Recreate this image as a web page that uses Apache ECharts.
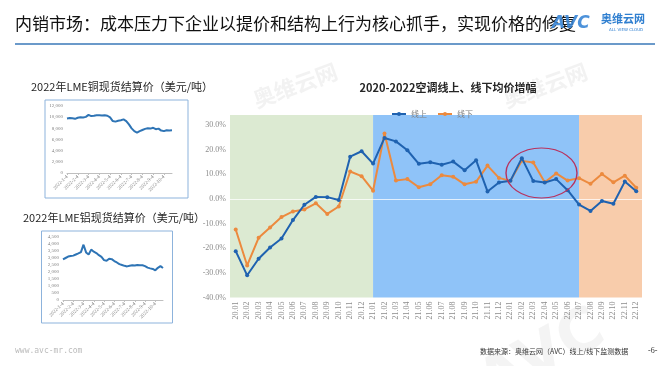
<!DOCTYPE html>
<html>
<head>
<meta charset="utf-8">
<script src="https://cdn.jsdelivr.net/npm/echarts@6/dist/echarts.min.js"></script>
<style>
html,body{margin:0;padding:0;background:#fff;}
#c{width:668px;height:366px;}
</style>
</head>
<body>
<div id="c"></div>
<script>
// ---------- data ----------
const months = ['20.01','20.02','20.03','20.04','20.05','20.06','20.07','20.08','20.09','20.10','20.11','20.12',
                '21.01','21.02','21.03','21.04','21.05','21.06','21.07','21.08','21.09','21.10','21.11','21.12',
                '22.01','22.02','22.03','22.04','22.05','22.06','22.07','22.08','22.09','22.10','22.11','22.12'];
const online  = [-21.2,-31.0,-24.3,-19.7,-16.1,-8.6,-2.4,0.8,0.7,-0.5,17.1,19.3,
                 14.3,24.7,23.3,19.7,14.2,14.8,13.8,15.1,11.6,15.7,3.0,6.6,
                 7.3,16.5,7.2,6.6,8.0,3.5,-2.3,-4.9,-0.9,-2.0,7.0,3.1];
const offline = [-12.4,-27.0,-15.8,-11.6,-7.4,-5.1,-4.3,-1.8,-6.1,-3.1,11.1,9.2,
                 3.3,26.5,7.4,8.0,4.7,5.9,9.6,9.0,5.9,6.9,13.5,8.5,
                 7.3,15.4,14.7,6.7,10.3,7.4,8.4,6.1,10.1,6.7,9.4,4.5];
const seriesNames = ['线上','线下'];
const phaseBreaks = ['21.01','22.07'];

const metalDates = [];
['1','2','3','4','5','6','7','8','9','10'].forEach(m => ['4','11','18','25'].forEach(d => metalDates.push('2022-' + m + '-' + d)));
const copper = [9750,9850,9800,9700, 9900,10000,9950,10050, 10400,10200,10250,10350,
                10350,10300,10350,10250, 9950,9300,9200,9350, 9450,9600,9300,8700,
                8000,7500,7250,7500, 7700,7900,8000,7950, 8100,7850,7950,7600,
                7500,7650,7600,7650];
const aluminum = [2900,3000,3100,3140, 3170,3250,3330,3420, 3950,3400,3250,3600,
                  3450,3350,3200,3080, 2850,2800,2950,2920, 2780,2680,2560,2500,
                  2440,2400,2450,2480, 2460,2500,2490,2480, 2420,2310,2260,2220,
                  2120,2300,2420,2280];

// ---------- chart ----------
const chart = echarts.init(document.getElementById('c'), null, {renderer:'canvas'});
const serif = '"Liberation Serif","DejaVu Serif",serif';
const cjk = '"Noto Sans CJK SC","Noto Sans",sans-serif';

function miniAxes(gi, max, step){
  return {
    x: {type:'category', gridIndex:gi, data:metalDates, boundaryGap:false,
        axisLine:{lineStyle:{color:'#bfbfbf'}}, axisTick:{show:true, interval:3, length:2, lineStyle:{color:'#bfbfbf'}},
        axisLabel:{interval:3, rotate:45, fontSize:5, color:'#7f7f7f', fontFamily:serif, margin:3}},
    y: {type:'value', gridIndex:gi, min:0, max:max, interval:step, splitLine:{show:false},
        axisLine:{show:false}, axisTick:{show:false},
        axisLabel:{fontSize:5, color:'#7f7f7f', fontFamily:serif, margin:4}}
  };
}
const cuAx = miniAxes(1, 12000, 2000);
const alAx = miniAxes(2, 4500, 500);

const option = {
  backgroundColor:'#ffffff',
  animation:false,
  title:[
    {text:'2020-2022空调线上、线下均价增幅', left:443, top:77, textAlign:'center',
     textStyle:{fontFamily:cjk, fontSize:11, fontWeight:'bold', color:'#262626'}},
    {text:'2022年LME铜现货结算价（美元/吨）', left:26, top:76,
     textStyle:{fontFamily:cjk, fontSize:11, fontWeight:'normal', color:'#262626'}},
    {text:'2022年LME铝现货结算价（美元/吨）', left:18, top:207,
     textStyle:{fontFamily:cjk, fontSize:11, fontWeight:'normal', color:'#262626'}}
  ],
  legend:{data:seriesNames, left:386, top:105, itemWidth:14, itemHeight:5, itemGap:10,
          textStyle:{fontFamily:cjk, fontSize:8, color:'#7f7f7f'}},
  grid:[
    {left:230, right:26, top:115, bottom:68.5},
    {left:67, right:496, top:106, bottom:193},
    {left:63, right:505, top:237, bottom:66}
  ],
  xAxis:[
    {type:'category', gridIndex:0, data:months, boundaryGap:true,
     axisLine:{show:false}, axisTick:{show:false},
     axisLabel:{rotate:90, interval:0, fontSize:8, color:'#8c8c8c', fontFamily:serif, margin:4}},
    cuAx.x, alAx.x
  ],
  yAxis:[
    {type:'value', gridIndex:0, min:-40, max:34, interval:10, splitLine:{show:false},
     axisLine:{show:false}, axisTick:{show:false},
     axisLabel:{showMaxLabel:false, fontSize:8, color:'#8c8c8c', fontFamily:serif, margin:4,
                formatter:v => v.toFixed(1) + '%'}},
    cuAx.y, alAx.y
  ],
  series:[
    {name:seriesNames[0], type:'line', xAxisIndex:0, yAxisIndex:0, data:online, z:5,
     symbol:'circle', symbolSize:4, color:'#1f62b0', lineStyle:{width:2},
     markArea:{silent:true, data:[
       [{itemStyle:{color:'#dcead2'}}, {xAxis:phaseBreaks[0]}],
       [{xAxis:phaseBreaks[0], itemStyle:{color:'#8fc3f8'}}, {xAxis:phaseBreaks[1]}],
       [{xAxis:phaseBreaks[1], itemStyle:{color:'#f8ccab'}}, {}]
     ]},
     markLine:{silent:true, symbol:'none', label:{show:false},
       lineStyle:{color:'rgba(255,255,255,0.75)', width:1, type:'solid'}, data:[{yAxis:0}]}
    },
    {name:seriesNames[1], type:'line', xAxisIndex:0, yAxisIndex:0, data:offline, z:4,
     symbol:'circle', symbolSize:4, color:'#ec8a3e', lineStyle:{width:2}},
    {name:'铜', type:'line', xAxisIndex:1, yAxisIndex:1, data:copper, symbol:'none',
     color:'#2e74b5', lineStyle:{width:2}},
    {name:'铝', type:'line', xAxisIndex:2, yAxisIndex:2, data:aluminum, symbol:'none',
     color:'#2e74b5', lineStyle:{width:2}}
  ],
  graphic:[
    // mini chart frames
    {type:'rect', shape:{x:45, y:100, width:143, height:98}, z:-1,
     style:{fill:'#fff', stroke:'#8db3dc', lineWidth:1}},
    {type:'rect', shape:{x:41.5, y:231, width:131, height:92}, z:-1,
     style:{fill:'#fff', stroke:'#8db3dc', lineWidth:1}},
    // slide title
    {type:'text', left:15, top:15, style:{text:'内销市场：成本压力下企业以提价和结构上行为核心抓手，实现价格的修复',
      font:'17px ' + cjk, fill:'#111'}},
    {type:'line', shape:{x1:15, y1:44, x2:655, y2:44}, style:{stroke:'#3a78b8', lineWidth:1.5}},
    // logo
    {type:'text', left:552, top:15, style:{text:'AVC', font:'italic bold 17px "DejaVu Sans",sans-serif', fill:'#3a86d6', opacity:0.9}},
    {type:'text', left:601, top:13, style:{text:'奥维云网', font:'bold 11px ' + cjk, fill:'#2f7fd0'}},
    {type:'text', left:609, top:28, style:{text:'ALL VIEW CLOUD', font:'4px "DejaVu Sans",sans-serif', fill:'#2f7fd0'}},
    // highlight ellipse
    {type:'circle', shape:{cx:0, cy:0, r:25}, x:541.5, y:173, scaleX:1.42, scaleY:1, z:100,
     style:{fill:'none', stroke:'#b8325e', lineWidth:1, strokeNoScale:true}},
    // footer
    {type:'text', left:15, top:347, style:{text:'www.avc-mr.com', font:'8px "DejaVu Sans Mono",monospace', fill:'#bbbbbb'}},
    {type:'text', left:480, top:348, style:{text:'数据来源：奥维云网（AVC）线上/线下监测数据', font:'7px ' + cjk, fill:'#333'}},
    {type:'text', left:648, top:347, style:{text:'-6-', font:'8px ' + serif, fill:'#333'}},
    // watermarks
    {type:'text', left:250, top:60, rotation:0.35, style:{text:'奥维云网', font:'bold 22px ' + cjk, fill:'rgba(150,150,150,0.12)'}},
    {type:'text', left:500, top:60, rotation:0.35, style:{text:'奥维云网', font:'bold 22px ' + cjk, fill:'rgba(150,150,150,0.12)'}},
    {type:'text', left:470, top:300, rotation:0.5, style:{text:'AVC', font:'bold 60px "DejaVu Sans",sans-serif', fill:'rgba(150,150,150,0.10)'}}
  ]
};
chart.setOption(option);
</script>
</body>
</html>
